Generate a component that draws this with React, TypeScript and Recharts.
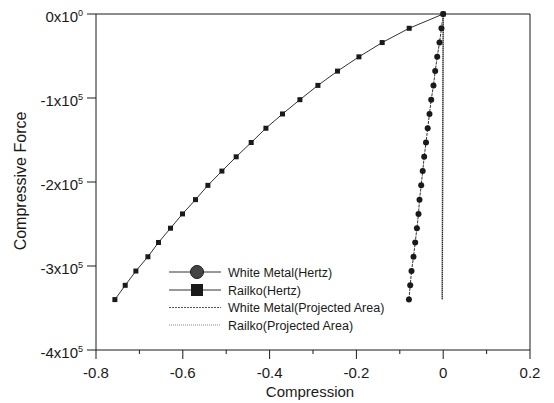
import { LineChart, Line, XAxis, YAxis, ReferenceLine } from "recharts";

// force levels (N) shared by the Hertz curves
const forceLevels = [
  0, -17000, -34000, -51000, -68000, -85000, -102000, -119000, -136000,
  -153000, -170000, -187000, -204000, -221000, -238000, -255000, -272000,
  -289000, -306000, -323000, -340000,
];
const whiteMetalHertz = [
  0, -0.004, -0.0085, -0.0138, -0.0184, -0.0224, -0.0276, -0.0316, -0.0357,
  -0.0396, -0.0438, -0.0472, -0.0507, -0.0546, -0.0569, -0.0606, -0.0645,
  -0.0684, -0.073, -0.076, -0.079,
];
const railkoHertz = [
  0, -0.0783, -0.1406, -0.1942, -0.2435, -0.2887, -0.3302, -0.3703, -0.4085,
  -0.4424, -0.477, -0.5099, -0.5422, -0.5707, -0.6007, -0.6283, -0.656,
  -0.6804, -0.7081, -0.7327, -0.7565,
];
// projected area curves are nearly vertical at 0
const projectedForce = [0, -85000, -170000, -255000, -340000];
const whiteMetalProjected = [0, -0.0006, -0.0012, -0.0018, -0.0024];
const railkoProjected = [0, -0.0005, -0.001, -0.0016, -0.0021];

const xTicks = [-0.8, -0.7, -0.6, -0.5, -0.4, -0.3, -0.2, -0.1, 0, 0.1, 0.2];
const yTicks = [-400000, -300000, -200000, -100000, 0];

const FONT = "'Liberation Sans', Arial, sans-serif";
const INK = "#1a1a1a";

const toPoints = (xs: number[], ys: number[]) =>
  ys.map((y, i) => ({ x: xs[i], y }));

const series = [
  { name: "White Metal(Hertz)", data: toPoints(whiteMetalHertz, forceLevels), marker: "circle", stroke: "#333", width: 1, dash: "3 1" },
  { name: "Railko(Hertz)", data: toPoints(railkoHertz, forceLevels), marker: "square", stroke: "#333", width: 1, dash: undefined },
  { name: "White Metal(Projected Area)", data: toPoints(whiteMetalProjected, projectedForce), marker: "none", stroke: "#999", width: 1.6, dash: undefined },
  { name: "Railko(Projected Area)", data: toPoints(railkoProjected, projectedForce), marker: "none", stroke: "#222", width: 1, dash: "1 1" },
];

function CircleDot(props: any) {
  const { cx, cy } = props;
  return <circle cx={cx} cy={cy} r={3} fill={INK} />;
}

function SquareDot(props: any) {
  const { cx, cy } = props;
  return <rect x={cx - 2.5} y={cy - 2.5} width={5} height={5} fill={INK} />;
}

function XTick({ x, y, payload }: any) {
  const major = Math.round(payload.value * 10) % 2 === 0;
  return (
    <g>
      <line x1={x} x2={x} y1={y} y2={y + (major ? 9 : 4)} stroke={INK} />
      {major && (
        <text x={x} y={y + 28} textAnchor="middle" fontSize={15} fontFamily={FONT} fill={INK}>
          {String(payload.value)}
        </text>
      )}
    </g>
  );
}

function YTick({ x, y, payload }: any) {
  const v = payload.value;
  const mant = v === 0 ? "0" : String(v / 100000);
  const exp = v === 0 ? "0" : "5";
  return (
    <g>
      <line x1={x - 9} x2={x} y1={y} y2={y} stroke={INK} />
      <text x={x - 13} y={y + 7.5} textAnchor="end" fontSize={15} fontFamily={FONT} fill={INK}>
        {`${mant}x10`}
        <tspan dy={-6} fontSize={9}>{exp}</tspan>
      </text>
    </g>
  );
}

function ChartLegend() {
  const rowY = [272, 290, 307.5, 325];
  return (
    <svg width={554} height={403} style={{ position: "absolute", left: 0, top: 0, pointerEvents: "none" }}>
      {series.map((s, i) => (
        <g key={s.name}>
          <line x1={169} x2={221} y1={rowY[i]} y2={rowY[i]} stroke={i < 2 ? "#333" : i === 2 ? "#555" : "#888"} strokeDasharray={i < 2 ? undefined : i === 2 ? "2 1" : "1 1"} />
          {s.marker === "circle" && <circle cx={197} cy={rowY[i]} r={6.5} fill="#444" stroke={INK} />}
          {s.marker === "square" && <rect x={191} y={rowY[i] - 6} width={12} height={12} fill={INK} />}
          <text x={228} y={rowY[i] + 4.5} fontSize={12.5} fontFamily={FONT} fill={INK}>
            {s.name}
          </text>
        </g>
      ))}
    </svg>
  );
}

export default function App() {
  return (
    <div style={{ position: "absolute", left: 0, top: 0, width: 554, height: 403, background: "#fff" }}>
      <LineChart width={554} height={403} margin={{ top: 14, right: 24, bottom: 0, left: 0 }}>
        <XAxis
          dataKey="x"
          type="number"
          domain={[-0.8, 0.2]}
          ticks={xTicks}
          interval={0}
          height={53}
          tickSize={0}
          tickMargin={0}
          tickLine={false}
          tick={<XTick />}
          axisLine={{ stroke: INK }}
          label={{
            content: () => (
              <text x={310} y={397} textAnchor="middle" fontSize={15} fontFamily={FONT} fill={INK}>
                Compression
              </text>
            ),
          }}
        />
        <YAxis
          dataKey="y"
          type="number"
          domain={[-400000, 0]}
          ticks={yTicks}
          interval={0}
          width={96}
          tickSize={0}
          tickMargin={0}
          tickLine={false}
          tick={<YTick />}
          axisLine={{ stroke: INK }}
          label={{
            content: () => (
              <text x={26} y={181} transform="rotate(-90 26 181)" textAnchor="middle" fontSize={16} fontFamily={FONT} fill={INK}>
                Compressive Force
              </text>
            ),
          }}
        />
        <ReferenceLine y={0} stroke={INK} />
        <ReferenceLine x={0.2} stroke={INK} />
        {series.map((s) => (
          <Line
            key={s.name}
            data={s.data}
            dataKey="y"
            name={s.name}
            stroke={s.stroke}
            strokeWidth={s.width}
            strokeDasharray={s.dash}
            dot={s.marker === "circle" ? <CircleDot /> : s.marker === "square" ? <SquareDot /> : false}
            activeDot={false}
            isAnimationActive={false}
          />
        ))}
      </LineChart>
      <ChartLegend />
    </div>
  );
}
